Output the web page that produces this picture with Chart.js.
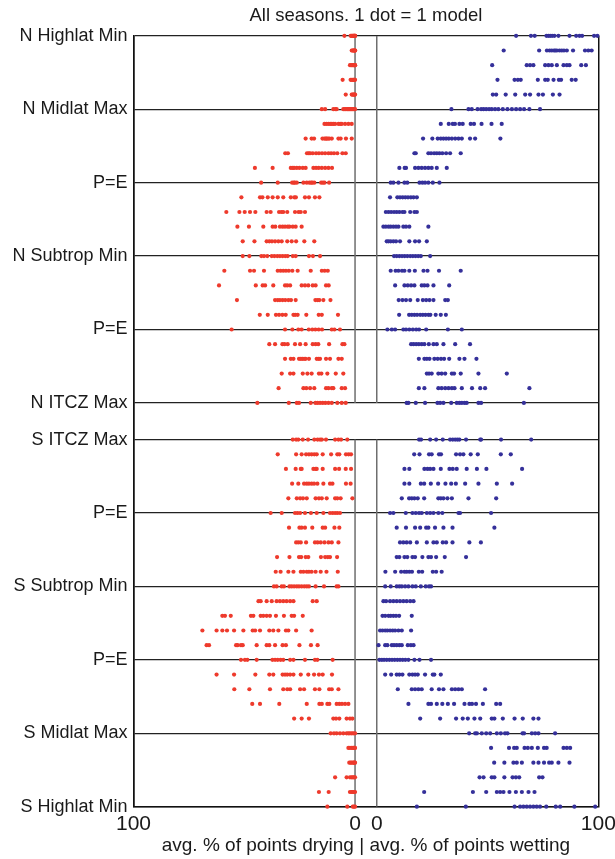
<!DOCTYPE html>
<html>
<head>
<meta charset="utf-8">
<script src="https://cdn.jsdelivr.net/npm/chart.js@4"></script>
<style>
  html, body { margin: 0; padding: 0; background: #fff; }
  canvas { display: block; }
</style>
</head>
<body>
<canvas id="chart" width="615" height="859"></canvas>
<script>
// Row labels, top of the northern panel down to the bottom of the southern panel
const ROW_LABELS = ['N Highlat Min', 'N Midlat Max', 'P=E', 'N Subtrop Min', 'P=E', 'N ITCZ Max',
                    'S ITCZ Max', 'P=E', 'S Subtrop Min', 'P=E', 'S Midlat Max', 'S Highlat Min'];
const X_TICK_LABELS = ['100', '0', '0', '100'];

// Northern hemisphere: one list per row, one value per model (avg. % of points drying)
const DRYING_N = [
  [4.8, 2.0, 1.6, 1.3, 1.0, 0.8, 0.6, 0.4, 0.2, 0, 0, 0],
  [1.5, 1.1, 0.8, 0.5, 0.3, 0.1, 0, 0],
  [2.3, 1.8, 1.4, 1.0, 0.7, 0.4, 0.2, 0, 0],
  [5.6, 2.0, 1.5, 1.0, 0.7, 0.4, 0.2, 0],
  [4.2, 1.5, 1.1, 0.7, 0.4, 0.1, 0],
  [15.0, 13.5, 9.8, 8.9, 8.3, 5.3, 4.6, 4.1, 3.5, 3.0, 2.5, 2.0, 1.5, 1.0, 0.5, 0],
  [13.8, 12.9, 12.0, 11.2, 10.5, 9.8, 9.0, 7.5, 6.7, 6.0, 4.5, 3.0, 1.5],
  [22.3, 19.6, 18.5, 14.7, 13.8, 13.2, 12.8, 12.2, 11.6, 10.5, 7.5, 6.5, 4.1, 1.5],
  [31.5, 30.3, 21.7, 20.9, 20.3, 19.1, 17.6, 16.3, 14.9, 13.5, 12.0, 10.8, 9.5, 8.0, 5.7, 4.2],
  [45.2, 37.2, 29.0, 28.1, 27.5, 26.3, 25.1, 23.6, 22.3, 18.8, 17.6, 16.4, 15.0, 13.5, 12.0, 10.4],
  [42.4, 34.9, 28.4, 27.6, 27.2, 26.3, 23.3, 21.8, 20.6, 19.8, 19.3, 18.4, 15.3, 14.5, 13.8, 11.7],
  [51.3, 42.9, 41.8, 39.4, 37.2, 34.9, 32.4, 29.0, 27.4, 26.7, 22.6, 20.8, 18.1, 16.1],
  [58.1, 52.2, 49.8, 47.4, 45.0, 39.9, 38.1, 34.3, 33.2, 32.4, 30.6, 27.1, 25.5, 24.5, 22.6],
  [53.1, 47.9, 41.4, 37.2, 36.0, 33.9, 32.7, 31.6, 30.4, 29.6, 28.1, 26.8, 24.1],
  [50.7, 45.4, 39.9, 38.7, 37.5, 36.1, 34.6, 33.1, 30.6, 28.6, 26.6, 22.9, 18.4],
  [50.7, 47.7, 42.3, 41.1, 39.6, 37.6, 36.4, 35.1, 33.9, 32.7, 31.5, 30.4, 28.1, 26.8, 20.8, 19.0, 15.8],
  [59.0, 47.4, 45.6, 41.1, 34.9, 33.6, 32.4, 31.2, 29.9, 28.3, 25.9, 20.0, 15.0, 13.7, 12.3],
  [61.4, 44.8, 41.7, 40.6, 36.9, 31.6, 30.6, 29.3, 24.1, 22.6, 21.1, 19.1, 17.8, 13.1, 11.9],
  [53.3, 36.1, 34.9, 33.9, 32.7, 31.5, 30.1, 28.9, 26.8, 17.9, 16.9, 16.1, 14.3, 11.1],
  [43.0, 39.4, 35.7, 34.3, 32.8, 31.3, 27.8, 27.0, 25.9, 22.0, 16.4, 15.0, 7.7],
  [55.7, 31.6, 28.3, 25.6, 24.1, 20.9, 19.3, 17.9, 16.4, 14.9, 10.5, 9.3, 6.8],
  [38.7, 36.1, 32.8, 31.8, 30.4, 27.1, 24.8, 22.3, 19.1, 17.8, 16.6, 11.7, 5.7, 4.8],
  [31.6, 29.0, 27.8, 25.3, 24.5, 23.8, 23.0, 22.3, 20.8, 17.3, 16.5, 15.8, 13.1, 11.3, 7.5, 6.0],
  [33.1, 29.3, 27.8, 23.6, 21.5, 19.6, 16.3, 15.2, 12.5, 8.7, 5.3],
  [34.5, 23.3, 22.0, 20.3, 18.4, 13.1, 12.0, 10.5, 9.8, 6.0, 4.5],
  [44.1, 29.9, 26.3, 25.3, 20.0, 17.9, 16.9, 15.8, 14.6, 13.4, 12.0, 10.5, 8.0, 6.0, 4.2]
];

// Northern hemisphere: avg. % of points wetting
const WETTING_N = [
  [62.9, 69.6, 71.3, 76.6, 77.5, 78.3, 79.2, 80.2, 82.0, 87.0, 90.0, 91.5, 92.7, 98.1, 99.6],
  [57.3, 73.3, 76.8, 78.0, 79.0, 80.0, 80.6, 81.3, 82.5, 83.5, 84.5, 85.8, 88.6, 94.0, 95.5, 97.0],
  [52.1, 67.7, 69.2, 70.7, 76.0, 77.5, 79.0, 81.3, 84.3, 85.8, 87.0, 92.3, 94.4],
  [54.5, 62.2, 63.7, 65.0, 72.7, 76.0, 77.2, 79.8, 82.2, 83.2, 88.0, 89.8],
  [52.4, 53.9, 58.2, 62.5, 67.0, 69.2, 73.0, 75.0, 79.5, 82.5],
  [33.7, 41.4, 42.9, 45.5, 47.1, 48.2, 49.4, 50.7, 51.9, 53.4, 54.9, 56.9, 59.0, 61.0, 62.9, 64.7, 66.5, 68.9, 73.7],
  [28.9, 32.5, 34.3, 35.3, 37.3, 38.8, 42.4, 43.9, 47.3, 51.8, 56.4],
  [20.9, 25.1, 27.5, 28.9, 30.1, 31.3, 32.5, 33.9, 35.4, 36.9, 38.4, 42.1, 44.4, 55.8],
  [17.0, 17.6, 23.3, 24.5, 25.9, 27.1, 28.3, 29.6, 31.3, 33.1, 37.9],
  [10.2, 12.6, 13.2, 17.3, 18.8, 20.3, 21.8, 23.3, 24.8, 27.1, 31.6],
  [6.3, 7.5, 9.8, 12.5, 13.8, 19.3, 20.6, 21.8, 23.3, 25.3, 28.3],
  [6.0, 9.3, 10.5, 11.7, 12.9, 14.1, 15.4, 16.6, 18.1],
  [4.1, 5.3, 6.5, 7.8, 9.0, 10.2, 11.6, 12.5, 15.1, 17.0, 18.1],
  [3.0, 4.1, 5.3, 6.3, 7.5, 8.7, 9.8, 12.0, 13.2, 14.7, 23.3],
  [4.5, 5.3, 6.3, 7.5, 8.7, 10.5, 14.7, 17.3, 19.1, 22.6],
  [7.8, 9.0, 10.2, 11.4, 12.6, 13.8, 15.1, 16.3, 17.5, 18.7, 19.9, 24.1],
  [6.3, 8.5, 9.8, 11.4, 12.5, 14.7, 17.2, 21.1, 22.9, 28.1, 37.9],
  [8.3, 12.5, 14.0, 15.5, 17.0, 20.3, 21.5, 22.9, 25.6, 32.7],
  [9.9, 11.6, 13.2, 15.1, 18.5, 20.8, 22.3, 23.8, 25.6, 30.9, 32.1],
  [10.1, 14.6, 15.8, 17.0, 18.2, 19.6, 20.8, 22.0, 23.3, 24.2, 26.6, 28.9, 31.2],
  [4.8, 6.8, 8.3, 12.0, 13.2, 14.7, 16.3, 17.8, 19.1, 22.3, 32.1, 38.4],
  [15.5, 16.6, 17.8, 19.0, 20.3, 21.5, 23.5, 25.6, 27.1, 30.1, 35.4, 42.1],
  [19.0, 21.5, 22.6, 23.8, 26.0, 27.5, 29.0, 30.4, 32.7, 37.3, 39.6, 45.0],
  [22.6, 23.6, 24.8, 27.8, 29.3, 30.9, 33.9, 34.9, 37.9, 45.9, 58.7],
  [19.0, 21.5, 27.8, 29.3, 30.9, 32.4, 33.9, 35.1, 38.4, 43.0, 46.7, 48.9, 68.9],
  [13.5, 14.3, 17.6, 21.8, 27.4, 28.6, 30.1, 33.6, 36.1, 37.3, 38.4, 39.6, 40.6, 45.9, 47.1, 66.4]
];

// Southern hemisphere: avg. % of points drying
const DRYING_S = [
  [28.1, 26.6, 25.6, 23.6, 21.2, 18.4, 16.9, 15.8, 15.0, 13.1, 9.0, 7.5, 6.3, 3.5],
  [34.9, 26.6, 24.1, 22.1, 20.8, 19.6, 18.4, 17.3, 14.6, 10.8, 8.0, 7.1, 4.1, 2.9, 1.8],
  [31.2, 26.8, 24.5, 24.1, 18.8, 17.8, 17.3, 14.6, 9.0, 7.2, 4.2, 1.8],
  [28.4, 25.6, 23.0, 21.8, 20.8, 19.6, 18.5, 17.0, 14.3, 11.3, 10.2, 4.1, 2.0],
  [30.1, 26.3, 24.8, 23.5, 21.8, 17.8, 16.3, 15.0, 12.8, 9.0, 8.0, 6.5, 1.2],
  [38.1, 33.1, 27.1, 26.0, 24.8, 22.6, 19.9, 17.3, 14.3, 11.3, 10.1, 9.0, 8.0, 6.8],
  [29.8, 25.1, 24.1, 22.6, 19.3, 14.6, 13.5, 9.3, 7.1],
  [26.6, 25.6, 24.5, 22.1, 18.1, 16.9, 15.5, 13.8, 12.0, 10.5, 7.5],
  [35.2, 29.6, 25.3, 24.3, 22.3, 21.1, 15.4, 13.5, 12.3, 11.3, 8.1],
  [35.8, 33.6, 30.1, 27.8, 24.5, 23.3, 21.8, 20.8, 19.6, 17.8, 15.5, 12.9, 7.8],
  [36.6, 35.4, 33.1, 32.1, 29.6, 28.6, 27.5, 26.3, 25.3, 24.1, 22.9, 21.8, 20.8, 17.8, 14.0, 8.3, 7.5],
  [43.6, 42.6, 39.9, 37.6, 35.4, 33.9, 32.4, 30.9, 29.3, 27.8, 19.1, 17.3],
  [59.9, 58.7, 56.1, 47.0, 45.9, 42.6, 41.4, 39.9, 38.4, 35.7, 32.1, 28.6, 27.5, 23.6],
  [68.9, 62.5, 59.9, 57.8, 54.6, 50.4, 46.2, 45.1, 42.9, 38.7, 36.9, 34.6, 31.2, 30.1, 26.6, 19.6],
  [67.0, 65.9, 53.7, 53.0, 51.5, 50.7, 44.4, 39.9, 38.7, 36.1, 32.7, 31.2, 25.1, 19.9, 16.9],
  [51.5, 49.7, 48.6, 44.4, 37.3, 36.1, 34.9, 33.6, 32.4, 29.3, 27.8, 22.6, 18.1, 17.0, 10.1],
  [62.5, 54.6, 45.0, 38.7, 36.9, 32.7, 31.6, 30.6, 29.3, 27.8, 24.5, 21.1, 18.5, 16.3, 14.6, 10.4],
  [54.5, 47.7, 38.4, 32.4, 30.6, 29.3, 24.8, 23.0, 18.1, 16.1, 11.7, 10.5, 7.5],
  [46.4, 42.9, 34.2, 21.8, 16.1, 15.0, 12.5, 11.6, 8.3, 7.1, 5.9, 4.5, 3.0],
  [27.5, 24.1, 20.8, 9.8, 8.6, 7.1, 3.8, 2.3, 1.2],
  [11.0, 9.5, 8.3, 6.8, 5.3, 3.8, 3.0, 2.3, 1.5, 0.8, 0],
  [3.0, 2.3, 1.5, 0.9, 0.5, 0.2, 0],
  [2.6, 2.0, 1.5, 0.9, 0.5, 0.2, 0],
  [9.0, 3.8, 2.3, 1.6, 1.0, 0.5, 0],
  [16.3, 11.9, 2.3, 1.6, 1.0, 0.5, 0],
  [12.5, 3.5, 1.0, 0.5, 0]
];

// Southern hemisphere: avg. % of points wetting
const WETTING_S = [
  [19.1, 20.0, 24.1, 26.8, 29.8, 33.1, 34.3, 35.4, 36.4, 37.3, 40.3, 46.7, 47.1, 56.1, 69.7],
  [16.9, 19.3, 23.6, 24.8, 28.1, 29.0, 35.8, 37.6, 39.1, 42.4, 45.6, 56.0, 60.5],
  [12.5, 14.7, 21.5, 22.9, 24.1, 25.6, 28.9, 32.8, 34.3, 36.1, 40.6, 45.2, 49.5, 65.6],
  [12.5, 14.7, 19.9, 21.4, 24.4, 27.7, 31.0, 33.6, 35.7, 39.9, 45.9, 54.2, 61.1],
  [11.3, 14.6, 15.8, 17.0, 18.5, 21.4, 27.8, 28.9, 30.1, 31.9, 33.9, 41.4, 53.9],
  [6.0, 7.5, 13.1, 16.1, 17.6, 19.1, 20.3, 22.6, 24.1, 25.6, 27.8, 29.6, 36.9, 37.6, 51.6],
  [9.0, 13.2, 17.3, 19.6, 22.3, 23.3, 26.3, 30.1, 34.2, 53.1],
  [10.5, 12.0, 13.5, 15.1, 18.1, 22.6, 25.6, 27.1, 29.8, 31.3, 34.2, 41.8, 47.0],
  [9.0, 10.2, 12.5, 13.8, 16.1, 17.3, 20.6, 23.3, 24.5, 26.8, 30.7, 40.3],
  [3.9, 8.3, 11.0, 12.5, 13.5, 14.7, 15.9, 19.0, 20.5, 25.3, 26.8, 29.3],
  [3.8, 6.3, 9.0, 10.2, 11.3, 12.8, 14.3, 16.1, 17.6, 19.9, 22.1, 23.6, 24.5],
  [3.0, 4.2, 6.0, 7.5, 9.0, 10.5, 12.0, 13.5, 15.1, 16.6],
  [2.6, 3.8, 5.3, 6.3, 7.5, 8.7, 10.1, 15.8],
  [1.5, 2.6, 3.8, 4.8, 6.0, 7.2, 8.3, 9.8, 11.3, 15.5],
  [0.8, 3.8, 4.8, 6.8, 7.8, 9.0, 10.2, 11.3, 14.0, 15.4, 16.6],
  [1.2, 2.3, 3.3, 4.5, 5.7, 6.9, 8.1, 9.3, 10.5, 11.7, 12.9, 14.3, 17.0, 19.3, 24.5],
  [3.8, 6.5, 9.0, 10.2, 11.6, 14.7, 16.1, 17.3, 18.5, 21.8, 25.3, 26.0, 28.9],
  [9.5, 15.8, 17.3, 18.8, 20.3, 24.8, 28.1, 30.1, 33.9, 35.4, 36.9, 38.4, 48.9],
  [14.3, 23.3, 24.5, 27.1, 29.6, 32.1, 34.9, 39.6, 41.8, 43.0, 44.8, 47.9, 53.9, 55.7],
  [19.6, 28.6, 35.8, 38.8, 41.1, 44.1, 46.7, 51.9, 53.1, 56.9, 62.2, 65.9, 70.7, 73.0],
  [41.7, 44.4, 45.2, 47.4, 49.4, 51.2, 54.2, 56.0, 57.9, 59.0, 65.8, 66.5, 70.0, 71.5, 73.0, 80.5],
  [51.6, 59.7, 62.0, 63.2, 66.7, 68.2, 70.0, 72.7, 75.5, 76.7, 84.3, 85.8, 87.3],
  [53.0, 57.6, 61.7, 63.2, 65.5, 70.7, 73.0, 75.5, 77.8, 79.0, 82.0, 87.0],
  [46.4, 48.2, 51.9, 53.1, 57.6, 61.3, 62.8, 64.3, 73.3, 74.8],
  [21.4, 43.4, 49.4, 54.2, 55.7, 57.2, 59.9, 62.8, 65.5, 68.5, 71.2],
  [18.1, 40.2, 62.2, 64.7, 66.2, 67.7, 69.2, 70.7, 72.2, 73.7, 76.5, 80.8, 82.8, 89.2, 98.6]
];

// ---- layout of the shared axes ----
const ROW_SPAN = 25;               // row intervals per hemisphere panel
const LABEL_EVERY = 5;             // a labelled row every 5 rows
const PANEL_GAP = 2.5;             // blank rows between the two panels
const S_START = ROW_SPAN + PANEL_GAP;
const Y_MAX = S_START + ROW_SPAN;
const HALF_GAP = 9.8;              // blank strip between the drying and wetting halves (in %)
const WET_ZERO = 100 + HALF_GAP;
const X_MAX = WET_ZERO + 100;

const dryX = d => 100 - d;         // drying axis runs 100 -> 0
const wetX = w => WET_ZERO + w;    // wetting axis runs 0 -> 100

function toPoints(rows, startRow, toX) {
  return rows.flatMap((vals, i) => vals.map(v => ({ x: toX(v), y: startRow + i })));
}

const Y_TICKS = [];
for (let k = 0; k <= ROW_SPAN; k += LABEL_EVERY) Y_TICKS.push(k);
for (let k = 0; k <= ROW_SPAN; k += LABEL_EVERY) Y_TICKS.push(S_START + k);
const X_TICKS = [0, 100, WET_ZERO, X_MAX];

const RED = '#ee3a2c';
const BLUE = '#35309a';
const FONT = '"Liberation Sans", Arial, Helvetica, sans-serif';
const TEXT = '#1a1a1a';

function zeroLine(x, y0, y1) {
  return {
    type: 'line',
    data: [{ x: x, y: y0 }, { x: x, y: y1 }],
    borderColor: '#6e6e6e',
    borderWidth: 1.5,
    pointRadius: 0,
    fill: false,
    order: 5
  };
}

const dotStyle = { type: 'scatter', pointRadius: 2.1, borderWidth: 0, clip: false, order: 1 };

new Chart(document.getElementById('chart'), {
  data: {
    datasets: [
      zeroLine(100, 0, ROW_SPAN),
      zeroLine(WET_ZERO, 0, ROW_SPAN),
      zeroLine(100, S_START, Y_MAX),
      zeroLine(WET_ZERO, S_START, Y_MAX),
      Object.assign({}, dotStyle, {
        label: 'drying',
        data: toPoints(DRYING_N, 0, dryX).concat(toPoints(DRYING_S, S_START, dryX)),
        backgroundColor: RED
      }),
      Object.assign({}, dotStyle, {
        label: 'wetting',
        data: toPoints(WETTING_N, 0, wetX).concat(toPoints(WETTING_S, S_START, wetX)),
        backgroundColor: BLUE
      })
    ]
  },
  options: {
    responsive: false,
    devicePixelRatio: 1,
    animation: false,
    events: [],
    layout: { padding: { left: 0, right: 16.7, top: 0, bottom: 0 } },
    plugins: {
      legend: { display: false },
      tooltip: { enabled: false },
      title: {
        display: true,
        fullSize: false,
        text: 'All seasons. 1 dot = 1 model',
        color: TEXT,
        font: { family: FONT, size: 18.5, weight: 'normal' },
        padding: { top: 5, bottom: 8.6 }
      }
    },
    scales: {
      x: {
        type: 'linear',
        min: 0,
        max: X_MAX,
        afterBuildTicks: s => { s.ticks = X_TICKS.map(v => ({ value: v })); },
        afterFit: s => { s.height = 52.3; s.paddingLeft = 0; s.paddingRight = 0; },
        ticks: {
          autoSkip: false,
          maxRotation: 0,
          padding: 4.7,
          color: TEXT,
          font: { family: FONT, size: 21 },
          callback: (v, i) => X_TICK_LABELS[i]
        },
        grid: {
          drawTicks: false,
          color: c => (c.index === 0 || c.index === X_TICKS.length - 1) ? '#111' : 'rgba(0,0,0,0)',
          lineWidth: 1.5
        },
        border: { display: true, color: '#111', width: 1.5 },
        title: {
          display: true,
          text: 'avg. % of points drying | avg. % of points wetting',
          color: TEXT,
          font: { family: FONT, size: 19 },
          padding: { top: 0, bottom: 1.9 }
        }
      },
      y: {
        type: 'linear',
        reverse: true,
        min: 0,
        max: Y_MAX,
        afterBuildTicks: s => { s.ticks = Y_TICKS.map(v => ({ value: v })); },
        afterFit: s => { s.width = 133.5; },
        ticks: {
          autoSkip: false,
          padding: 6,
          color: TEXT,
          font: { family: FONT, size: 18 },
          callback: (v, i) => ROW_LABELS[i]
        },
        grid: { drawTicks: false, color: '#222', lineWidth: 1.2 },
        border: { display: true, color: '#111', width: 1.5 }
      }
    }
  }
});
</script>
</body>
</html>
